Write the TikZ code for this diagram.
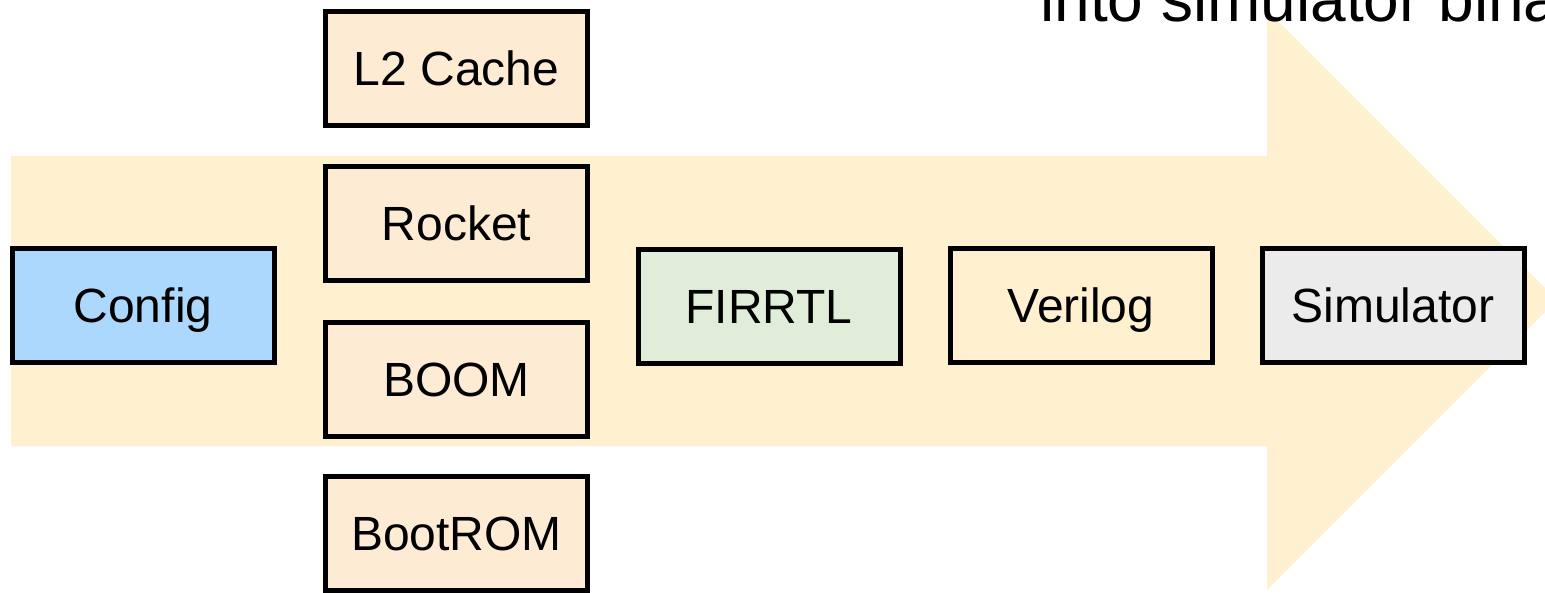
\documentclass[tikz,border=0pt]{standalone}
\usepackage{fontspec}
\setmainfont{Liberation Sans}
\definecolor{arrowfill}{HTML}{FFF1CF}
\definecolor{orangefill}{HTML}{FDEBD4}
\definecolor{greenfill}{HTML}{E0EDD8}
\definecolor{bluefill}{HTML}{ADD8FE}
\definecolor{grayfill}{HTML}{EBEBEB}
\tikzset{
  stagebox/.style={draw=black, line width=5pt, rectangle, minimum width=262pt,
    minimum height=114pt, inner sep=0pt, text height=34.4pt, text depth=0pt,
    font=\fontsize{48}{58}\selectfont},
}
\begin{document}
\begin{tikzpicture}[x=1pt,y=-1pt]
\useasboundingbox (0,0) rectangle (1545,592);
\clip (0,0) rectangle (1545,592);
% big background arrow
\fill[arrowfill] (11,156) -- (1267,156) -- (1267,10) -- (1557,300) -- (1267,590)
  -- (1267,446) -- (11,446) -- cycle;
% clipped caption at top right
\node[anchor=base west, inner sep=0pt, font=\fontsize{64}{74}\selectfont]
  (caption) at (1040,21) {into simulator binary};
% boxes
\node[stagebox, fill=bluefill] (config) at (143,305.5) {Config};
\node[stagebox, fill=orangefill] (l2) at (456.5,68.5) {L2 Cache};
\node[stagebox, fill=orangefill] (rocket) at (456.5,223.5) {Rocket};
\node[stagebox, fill=orangefill] (boom) at (456.5,379.5) {BOOM};
\node[stagebox, fill=orangefill] (bootrom) at (456.5,533) {BootROM};
\node[stagebox, fill=greenfill] (firrtl) at (769,306) {FIRRTL};
\node[stagebox, fill=arrowfill] (verilog) at (1081,305.5) {Verilog};
\node[stagebox, fill=grayfill] (simulator) at (1393,305) {Simulator};
\end{tikzpicture}
\end{document}
